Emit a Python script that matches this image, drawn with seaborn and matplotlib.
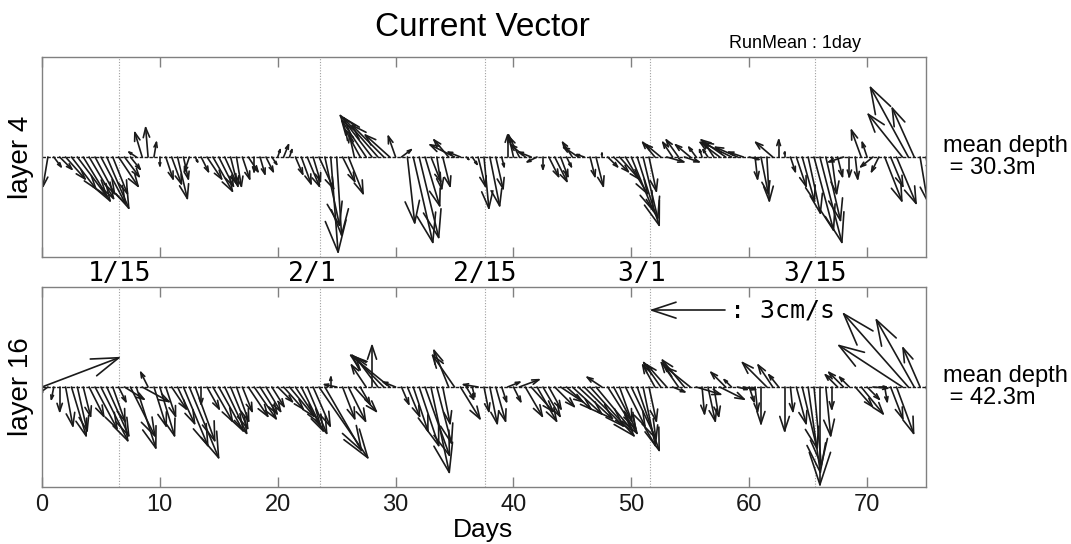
import numpy as np
import matplotlib
matplotlib.use("Agg")
import matplotlib.pyplot as plt
import seaborn as sns
from matplotlib.collections import LineCollection
import matplotlib.transforms as mtransforms

# ---------------- data ----------------
days = np.arange(0, 75.01, 0.5)          # observation times (days)

u4 = [0.0, -0.2, 0.3, 0.5, 0.8, 1.0, 1.2, 1.1, 1.0, 0.8,
      1.0, 0.9, 0.6, 0.8, 0.6, 0.4, -0.3, -0.3, -0.1, 0.1,
      0.0, 0.3, 0.4, 0.4, 0.2, -0.2, 0.1, 0.3, 0.6, 0.8,
      0.6, 0.5, 0.3, 0.2, 0.3, 0.4, 0.0, 0.2, 0.3, 0.2,
      0.1, 0.2, 0.1, 0.3, 0.4, 0.5, 0.3, 0.6, 0.6, 0.3,
      0.2, 0.5, 0.6, -0.2, -0.6, -1.0, -1.3, -1.4, -1.3, -1.0,
      -0.3, 0.4, 0.3, 0.8, 0.8, 0.6, 0.4, 0.2, 0.3, -0.6,
      -1.0, -0.5, 0.1, 0.2, 0.3, 0.2, 0.4, 0.3, 0.1, 0.0,
      -0.2, -0.4, -0.6, -0.5, -0.4, 0.0, 0.4, 0.5, 0.3, 0.2,
      -0.4, -0.6, -0.3, 0.2, 0.3, 0.0, 0.4, 0.6, 0.8, 0.9,
      0.9, 0.9, 0.6, 0.3, -0.5, -0.6, 0.7, -0.4, -0.5, 0.6,
      -0.6, -0.3, -0.1, -0.2, -0.4, -0.8, -1.0, -1.2, -0.9, -0.6,
      0.4, 0.1, 0.3, 0.1, -0.7, 0.0, 0.0, 0.2, 0.4, 0.5,
      0.5, 0.8, 0.9, 0.6, 0.2, 0.2, -0.6, 0.0, 0.1, -0.4,
      -0.2, -0.5, -0.3, 0.7, 0.5, 0.8, -1.4, -1.55, -0.9, 0.3,
      0.1]
v4 = [0.0, -1.2, -0.4, -0.5, -0.9, -1.3, -1.6, -1.8, -1.7, -1.5,
      -1.9, -2.1, -1.5, -1.2, -0.8, -0.5, 0.2, 1.0, 1.2, 0.6,
      -0.35, -0.9, -1.1, -1.7, -0.9, -0.6, -0.2, -0.6, -0.9, -1.4,
      -1.2, -1.1, -1.2, -1.2, -0.9, -0.6, -0.6, -0.7, -0.6, -0.3,
      0.3, 0.5, 0.3, -0.7, -1.1, -1.2, -1.0, -1.3, -2.8, -3.9,
      -3.2, -1.0, -1.5, 0.9, 1.1, 1.5, 1.7, 1.6, 1.3, 0.9,
      0.85, 0.3, -2.7, -3.5, -3.3, -2.0, -1.0, -1.3, -1.2, 0.7,
      0.5, 0.2, -0.1, -0.3, -1.2, -2.1, -2.0, -1.3, -0.4, 0.9,
      0.9, 0.8, 0.5, 0.2, -0.2, -0.5, -0.8, -1.0, -0.8, -0.4,
      0.6, 0.4, 0.1, -0.8, -1.2, 0.15, -0.4, -0.6, -0.9, -1.5,
      -2.2, -2.8, -2.5, -1.4, 0.6, 0.5, -0.2, 0.6, 0.7, -0.2,
      0.5, 0.4, 0.3, 0.3, 0.6, 0.6, 0.7, 0.6, 0.4, 0.2,
      -0.1, -0.9, -1.5, -1.8, 0.6, 0.7, 0.2, -0.6, -1.2, -1.8,
      -2.3, -3.0, -3.5, -2.6, -1.5, -0.8, -0.2, -0.8, -0.9, 1.1,
      0.6, -0.4, -0.6, -1.8, -1.2, -1.9, 1.75, 2.85, 2.0, -1.8,
      -0.5]

u16 = [3.15, -0.35, -0.1, 0.0, 0.3, 0.6, 0.4, 0.3, 0.6, 0.9,
       1.1, 0.9, 0.5, 0.3, 0.8, 1.0, 0.8, 1.1, -0.3, 0.5,
       0.6, 0.4, 0.6, 0.7, 1.0, 1.2, 0.8, 0.0, 0.5, 0.8,
       1.0, 0.9, 0.7, 0.5, 0.4, 0.8, 0.9, 0.7, 0.6, 0.5,
       0.6, 0.8, 1.0, 1.0, 0.9, 0.8, 0.7, 2.0, 1.5, 0.0,
       -0.5, 0.5, 0.7, 0.9, 0.4, -0.6, 0.0, -0.9, -1.3, -1.6,
       -0.5, 0.3, 0.5, 0.6, 0.8, 1.0, 0.75, 0.6, 0.3, -0.6,
       -0.9, 0.8, 0.3, 0.1, -0.6, 0.2, 0.3, 0.4, 0.2, 0.5,
       0.3, 0.8, 0.7, 0.9, 0.8, 0.7, 0.5, 0.8, 0.9, 1.0,
       1.2, 1.4, 1.6, 1.8, 1.5, -0.6, 1.2, 0.9, 0.5, 0.8,
       1.0, 0.9, 0.5, 0.3, -0.5, -0.7, -0.8, 0.5, -0.7, -0.9,
       -1.0, 1.0, 0.1, 0.3, 0.2, 1.0, -0.6, -0.3, 0.4, 0.5,
       0.2, 0.1, 0.0, -1.0, -0.6, -0.4, 0.0, 0.1, 0.4, 0.6,
       0.5, 0.3, 0.0, 0.2, 0.0, -0.5, -0.6, -0.4, 0.7, 0.9,
       0.5, 0.6, 0.3, 0.1, 0.5, 0.7, -2.6, -2.65, -1.55, -0.7,
       0.6]
v16 = [1.2, -0.25, -0.5, -1.0, -1.6, -2.0, -1.8, -1.2, -1.2, -1.7,
       -2.2, -2.0, -1.4, -0.6, -0.5, -2.0, -2.5, -0.6, 0.6, -1.6,
       -2.0, -1.2, -0.9, -1.5, -2.4, -2.9, -2.2, -0.7, -0.9, -1.4,
       -1.8, -1.9, -1.7, -1.4, -1.0, -1.2, -1.3, -1.1, -1.0, -0.8,
       -0.6, -0.9, -1.2, -1.5, -1.8, -1.9, -1.6, -2.9, -2.6, 0.4,
       0.1, -1.3, -1.4, -1.0, -0.7, 0.9, 1.7, 1.2, 1.3, 1.3,
       0.2, -0.7, -1.2, -1.8, -2.4, -2.8, -3.5, -2.3, -1.5, 1.5,
       1.3, -1.3, -0.5, -0.4, 0.1, -1.0, -1.5, -1.4, -0.6, 0.2,
       -0.6, 0.3, -1.2, -1.0, -1.4, -1.2, -0.9, -0.8, -0.6, -0.9,
       -1.1, -1.3, -1.6, -2.0, -1.8, 0.4, -1.9, -1.7, -1.4, -1.6,
       -2.1, -2.6, -2.4, -1.4, 0.9, 1.0, 0.9, -0.2, 1.0, 1.1,
       0.8, -0.3, -1.1, -1.4, -1.2, -0.5, 0.6, 0.3, -0.1, -0.1,
       -0.6, -1.0, -1.5, 1.0, 0.9, 0.5, -1.8, -1.0, -1.5, -2.5,
       -3.5, -3.2, -4.0, -2.0, -0.9, 0.5, 0.6, 0.4, -0.8, -1.1,
       -0.5, -0.05, 0.0, -0.6, -1.3, -1.9, 1.7, 3.0, 2.75, 1.6,
       -1.9]

date_pos = [6.56, 23.56, 37.56, 51.56, 65.56]
date_labels = ["1/15", "2/1 ", "2/15", "3/1 ", "3/15"]
layer_names = ["layer 4", "layer 16"]
depth_texts = ["mean depth\n = 30.3m", "mean depth\n = 42.3m"]
xticks = [0, 10, 20, 30, 40, 50, 60, 70]
scale_speed = 3.0   # cm/s reference arrow

# ---------------- style ----------------
sns.set_theme(style="white")
plt.rcParams['font.family'] = ['Liberation Sans', 'DejaVu Sans']
plt.rcParams['text.color'] = 'black'
plt.rcParams['xtick.labelcolor'] = 'black'

W, H = 1071, 544
fig = plt.figure(figsize=(W / 100, H / 100), dpi=100)
left, width = 42 / W, 884 / W
ax_top = fig.add_axes([left, 1 - 257 / H, width, 200 / H])
ax_bot = fig.add_axes([left, 1 - 487 / H, width, 200 / H])

XMAX = 75.0
YLIM = 4.1
grey = "#808080"
LW = 1.2


def sticks(ax, t, u, v, k, y0=0.0, alpha=0.33, beta=0.33):
    segs = []
    for ti, ui, vi in zip(t, u, v):
        if ui == 0 and vi == 0:
            continue
        w1 = (ui - alpha * (ui + beta * vi), vi - alpha * (vi - beta * ui))
        w2 = (ui - alpha * (ui - beta * vi), vi - alpha * (vi + beta * ui))
        P = lambda p: (ti + k * p[0], y0 + p[1])
        segs.append([P((0, 0)), P((ui, vi))])
        segs.append([P(w1), P((ui, vi)), P(w2)])
    lc = LineCollection(segs, colors="k", linewidths=LW, capstyle="round",
                        joinstyle="round")
    ax.add_collection(lc)


for ax, u, v, name, dtext in [(ax_top, u4, v4, layer_names[0], depth_texts[0]),
                              (ax_bot, u16, v16, layer_names[1], depth_texts[1])]:
    ax.set_xlim(0, XMAX)
    ax.set_ylim(-YLIM, YLIM)
    bb = ax.get_window_extent()
    k = (bb.height / (2 * YLIM)) / (bb.width / XMAX)   # days per cm/s
    for p in date_pos:
        ax.axvline(p, color="#a0a0a0", ls=(0, (1, 1.5)), lw=0.8, zorder=1)
    sns.lineplot(x=[0, XMAX], y=[0, 0], ax=ax, color="k", lw=1.0,
                 linestyle=(0, (2.5, 1)), zorder=2)
    sticks(ax, days, u, v, k)
    ax.set_xticks(xticks)
    ax.set_yticks([])
    ax.tick_params(axis="x", direction="in", length=7, width=1, color=grey,
                   top=True, bottom=True, labelsize=17, pad=5, labelcolor="k")
    for s in ax.spines.values():
        s.set_visible(True)
        s.set_color(grey)
        s.set_linewidth(1.0)
    ax.set_facecolor("white")
    yc = (bb.y0 + bb.y1) / 2 / H
    fig.text(21 / W, yc, name, rotation=90, ha="center", va="center", fontsize=20)
    fig.text(943 / W, yc, dtext, ha="left", va="center", fontsize=17,
             linespacing=0.95)

ax_top.tick_params(labelbottom=False)

# scale arrow
bb = ax_bot.get_window_extent()
k = (bb.height / (2 * YLIM)) / (bb.width / XMAX)
sticks(ax_bot, [57.95], [-scale_speed], [0.0], k, y0=3.15)
ax_bot.text(58.4, 3.15, ": 3cm/s", ha="left", va="center", fontsize=18,
            family=["DejaVu Sans Mono"])

# date labels between panels
trans = mtransforms.blended_transform_factory(ax_bot.transData, fig.transFigure)
for p, lab in zip(date_pos, date_labels):
    ax_bot.text(p, 1 - 274 / H, lab, transform=trans, ha="center", va="center",
                fontsize=19, family=["DejaVu Sans Mono"], clip_on=False)

fig.text(482 / W, 1 - 28 / H, "Current Vector", ha="center", va="center", fontsize=24)
fig.text(795 / W, 1 - 43 / H, "RunMean : 1day", ha="center", va="center", fontsize=13)
fig.text(483 / W, 1 - 530 / H, "Days", ha="center", va="center", fontsize=19)

fig.savefig("out.png", dpi=100, facecolor="white")
